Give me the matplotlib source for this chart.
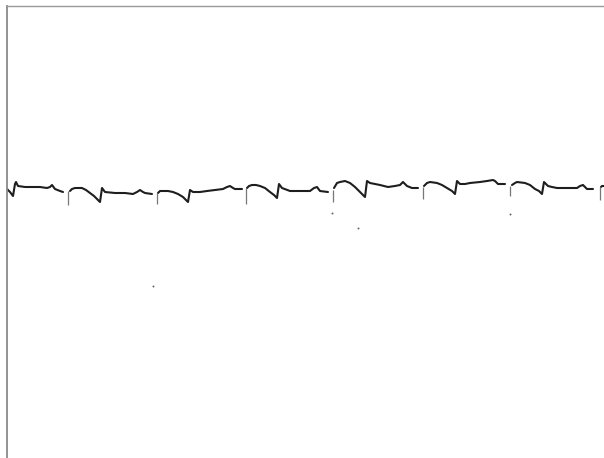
import matplotlib
matplotlib.use("Agg")
import matplotlib.pyplot as plt

# ECG strip, time in s, amplitude in mV; the trace is broken at each Q spike
seg_t = [
    [0.00, 0.03, 0.06, 0.08, 0.09, 0.11, 0.18, 0.26, 0.33, 0.40, 0.43, 0.45, 0.48, 0.53, 0.56],
    [0.63, 0.65, 0.68, 0.75, 0.79, 0.83, 0.87, 0.91, 0.93, 0.95, 0.98, 1.08, 1.18, 1.26, 1.30,
     1.33, 1.36, 1.38, 1.45],
    [1.51, 1.53, 1.56, 1.61, 1.66, 1.71, 1.76, 1.81, 1.83, 1.86, 1.93, 2.00, 2.08, 2.16, 2.20,
     2.23, 2.26, 2.28, 2.35],
    [2.40, 2.42, 2.45, 2.49, 2.53, 2.58, 2.63, 2.67, 2.70, 2.72, 2.75, 2.83, 2.93, 3.03, 3.07,
     3.10, 3.13, 3.21],
    [3.27, 3.30, 3.33, 3.38, 3.43, 3.48, 3.53, 3.58, 3.60, 3.63, 3.68, 3.73, 3.81, 3.88, 3.93,
     3.96, 4.00, 4.05, 4.11],
    [4.17, 4.20, 4.23, 4.30, 4.35, 4.40, 4.45, 4.48, 4.50, 4.53, 4.58, 4.63, 4.73, 4.80, 4.86,
     4.88, 4.91, 4.98],
    [5.05, 5.08, 5.10, 5.18, 5.23, 5.28, 5.32, 5.35, 5.37, 5.41, 5.45, 5.50, 5.58, 5.70, 5.73,
     5.76, 5.80, 5.86],
    [5.94, 5.95, 5.97],
]
seg_v = [
    [0.05, -0.10, -0.30, 0.30, 0.40, 0.20, 0.15, 0.15, 0.15, 0.10, 0.15, 0.25, 0.05, -0.05, -0.10],
    [-0.05, 0.05, 0.10, 0.10, 0.00, -0.15, -0.30, -0.50, -0.60, 0.10, -0.10, -0.15, -0.15, -0.20,
     -0.10, 0.00, -0.10, -0.15, -0.20],
    [-0.15, -0.05, -0.05, -0.05, -0.10, -0.20, -0.35, -0.60, 0.00, -0.10, -0.10, -0.05, 0.00, 0.05,
     0.15, 0.20, 0.10, 0.05, 0.05],
    [0.10, 0.20, 0.25, 0.25, 0.20, 0.10, -0.10, -0.25, -0.40, 0.30, 0.10, -0.05, -0.05, -0.05,
     0.10, 0.15, -0.05, -0.10],
    [0.10, 0.35, 0.40, 0.45, 0.35, 0.15, -0.10, -0.35, 0.45, 0.35, 0.30, 0.25, 0.15, 0.20, 0.25,
     0.40, 0.20, 0.10, 0.10],
    [0.20, 0.35, 0.40, 0.35, 0.25, 0.10, -0.05, -0.20, 0.45, 0.30, 0.30, 0.35, 0.40, 0.45, 0.50,
     0.45, 0.30, 0.30],
    [0.25, 0.35, 0.40, 0.35, 0.25, 0.05, -0.05, -0.20, 0.40, 0.20, 0.15, 0.10, 0.10, 0.10, 0.20,
     0.25, 0.05, 0.05],
    [0.15, 0.20, 0.20],
]

# thin downward spikes before each beat
spike_t = [0.61, 1.50, 2.39, 3.26, 4.16, 5.03, 5.93]
spike_low = [-0.75, -0.70, -0.70, -0.60, -0.45, -0.30, -0.50]
spike_high = [-0.05, -0.15, 0.10, 0.00, 0.15, 0.20, 0.15]

# stray specks on the scan
speck_t = [3.25, 3.51, 5.03, 1.46]
speck_v = [-1.15, -1.90, -1.20, -4.80]


def main():
    fig = plt.figure(figsize=(6.04, 4.58), dpi=100)
    fig.patch.set_facecolor("white")
    ax = fig.add_axes([7 / 604, 0.0, 597 / 604, 452 / 458])

    for t, v in zip(seg_t, seg_v):
        ax.plot(t, v, color="#1e1e1e", lw=1.5, solid_capstyle="round")

    ax.vlines(spike_t, spike_low, spike_high, color="#777777", lw=0.9)
    ax.scatter(speck_t, speck_v, s=2, color="#666666", linewidths=0)

    ax.set_xlim(0, 5.97)
    ax.set_ylim(-13.4, 9.2)
    ax.set_xticks([])
    ax.set_yticks([])
    for side in ("right", "bottom"):
        ax.spines[side].set_visible(False)
    ax.spines["left"].set_color("#8a8a8a")
    ax.spines["left"].set_linewidth(1.3)
    ax.spines["top"].set_color("#9a9a9a")
    ax.spines["top"].set_linewidth(1.0)

    fig.savefig("out.png", dpi=100)


if __name__ == "__main__":
    main()
